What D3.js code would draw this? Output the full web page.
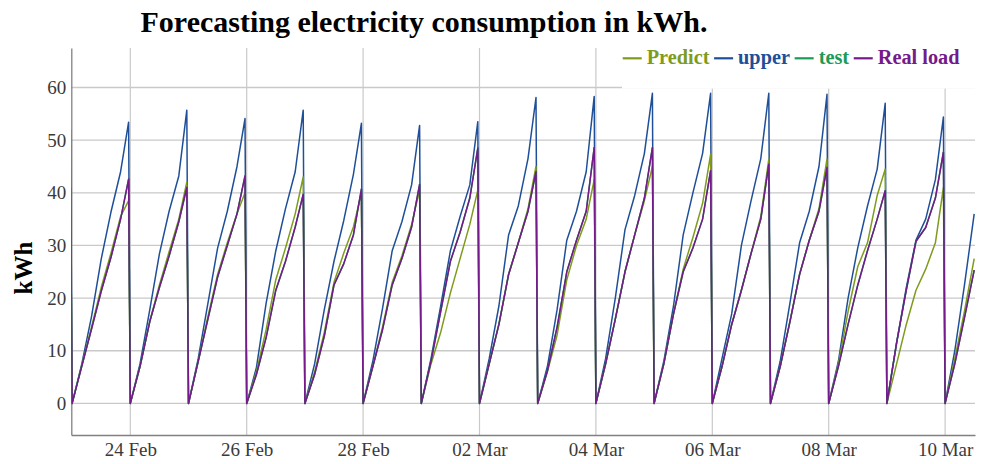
<!DOCTYPE html>
<html><head><meta charset="utf-8">
<script src="https://cdn.jsdelivr.net/npm/d3@7"></script>
<style>body{margin:0;background:#fff;} svg{display:block;}</style>
</head><body><svg id="chart" width="985" height="464"></svg>
<script>
// ---- data ----
const dayStarts = ["2023-02-23","2023-02-24","2023-02-25","2023-02-26","2023-02-27","2023-02-28",
  "2023-03-01","2023-03-02","2023-03-03","2023-03-04","2023-03-05","2023-03-06","2023-03-07",
  "2023-03-08","2023-03-09","2023-03-10"];
const sampleHours = [0, 4, 8, 12, 16, 20, 23.3];
const upper = [
  [0, 7.5, 16.5, 27.4, 36.3, 44, 53.4],
  [0, 7.5, 17.7, 28.4, 36.5, 43.2, 55.7],
  [0, 8.5, 19, 29.5, 36.5, 45, 54.1],
  [0, 6.8, 19, 29, 37, 44, 55.7],
  [0, 7.5, 17.8, 27, 34.7, 43.5, 53.2],
  [0, 8, 18, 29, 34.5, 41.5, 52.8],
  [0, 8.5, 18.5, 29, 35.5, 41.5, 53.5],
  [0, 8.5, 18.5, 32, 37.5, 46.5, 58.1],
  [0, 7, 17.8, 31, 36.5, 44, 58.3],
  [0, 8.5, 20, 33, 39.5, 47.5, 58.9],
  [0, 8, 18.5, 32, 40, 47.5, 58.9],
  [0, 8.5, 17, 30, 38.5, 46.5, 58.9],
  [0, 8, 19, 30.5, 36.5, 45, 58.7],
  [0, 8, 20, 29.6, 37.5, 44.5, 57],
  [0, 11.5, 22, 31, 35, 42.5, 54.4],
  [0, 10, 22.5, 36]
];
const predict = [
  [0, 7.2, 14.5, 22, 28.5, 35.5, 38.5],
  [0, 7, 15.5, 22.5, 28.8, 35, 42],
  [0, 8, 16.5, 24.5, 30.5, 36, 40],
  [0, 6, 14, 23.5, 29.5, 36, 43],
  [0, 6, 13.5, 23, 28.5, 33.5, 40],
  [0, 7, 14.5, 23, 28, 34, 40.5],
  [0, 7.5, 13.5, 21, 27.5, 34, 40.5],
  [0, 7.5, 15, 24.5, 30.5, 37, 45],
  [0, 6, 13, 23.5, 30, 35, 42.5],
  [0, 7.5, 16, 25, 32, 38.5, 45],
  [0, 7.5, 17, 25.5, 31.5, 38, 47.3],
  [0, 7, 15, 21.5, 28.5, 35.5, 46.4],
  [0, 7, 15.5, 24.5, 31, 37, 46.4],
  [0, 7.5, 17.5, 26, 30.5, 39.5, 44.5],
  [0, 7.5, 15, 21.5, 25.5, 30.5, 41],
  [0, 8.5, 17.5, 27.5]
];
const realLoad = [
  [0, 7.1, 14.1, 21.3, 27.7, 35, 42.6],
  [0, 7, 15.5, 22, 28, 34.5, 41],
  [0, 8, 16, 24, 30, 36, 43.2],
  [0, 5.5, 12.5, 21.5, 27, 33.5, 39.7],
  [0, 5.5, 12.8, 22.5, 26.5, 32, 40.7],
  [0, 7, 14, 22.5, 27.5, 33.5, 41.6],
  [0, 8, 17.5, 27, 32.5, 39, 48.5],
  [0, 7.5, 15, 24.5, 30.5, 36.5, 44],
  [0, 6.2, 14.5, 25, 31, 36.5, 48.6],
  [0, 7.5, 16, 25, 32, 39, 48.6],
  [0, 7.5, 17, 25, 29.5, 35, 44.2],
  [0, 7, 15, 21.5, 28.5, 35, 45.4],
  [0, 7, 15.5, 24.5, 31, 36.5, 44.8],
  [0, 7, 15, 22.5, 29, 35, 40.4],
  [0, 11.5, 21.5, 30.8, 33.4, 39, 47.7],
  [0, 7.5, 16.3, 25.3]
];
const test = realLoad; // the test series lies under Real load in the picture
const leadTime = "2023-02-22T23:20";
const leadUpper = 52, leadPredict = 40, leadReal = 41;
const tickDates = ["2023-02-24","2023-02-26","2023-02-28","2023-03-02","2023-03-04","2023-03-06","2023-03-08","2023-03-10"];
const yTicks = [0, 10, 20, 30, 40, 50, 60];
const seriesNames = ["Predict", "upper", "test", "Real load"];
const seriesColors = ["#7f9b1c", "#1f4f98", "#1b9a58", "#741a8a"];

// ---- layout ----
const W = 985, H = 464;
const L = 71.3, R = 975, T = 48, B = 435;
const svg = d3.select("#chart");
const serif = "'Liberation Serif','Times New Roman',serif";

const parseDay = d3.utcParse("%Y-%m-%d");
const parseTime = d3.utcParse("%Y-%m-%dT%H:%M");
const x = d3.scaleUtc()
  .domain([parseTime("2023-02-22T23:40"), parseTime("2023-03-10T12:20")])
  .range([L, R]);
const y = d3.scaleLinear().domain([-6, 67.5]).range([B, T]);

function buildSeries(values, lead) {
  const pts = [{t: parseTime(leadTime), v: lead}];
  dayStarts.forEach((ds, i) => {
    const base = parseDay(ds);
    values[i].forEach((v, j) => pts.push({t: new Date(+base + sampleHours[j] * 3600e3), v}));
  });
  return pts;
}

// clip
svg.append("defs").append("clipPath").attr("id", "plotclip")
  .append("rect").attr("x", L).attr("y", T).attr("width", R - L).attr("height", B - T);

// grid
const grid = svg.append("g");
grid.selectAll("line.h").data(yTicks).join("line")
  .attr("x1", L).attr("x2", R).attr("y1", d => y(d)).attr("y2", d => y(d))
  .attr("stroke", "#c9c9c9").attr("stroke-width", 1.3);
grid.selectAll("line.v").data(tickDates).join("line")
  .attr("y1", T).attr("y2", B).attr("x1", d => x(parseDay(d))).attr("x2", d => x(parseDay(d)))
  .attr("stroke", "#c9c9c9").attr("stroke-width", 1.2);

// axes
const xAxis = d3.axisBottom(x).tickValues(tickDates.map(parseDay))
  .tickFormat(d3.utcFormat("%d %b")).tickSize(0).tickPadding(8);
const gx = svg.append("g").attr("transform", `translate(0,${B})`).call(xAxis);
gx.select(".domain").attr("stroke", "#808080").attr("stroke-width", 1.5);
gx.selectAll("text").attr("font-family", serif).attr("font-size", 19).attr("fill", "#3a3a3a");

const yAxis = d3.axisLeft(y).tickValues(yTicks).tickSize(0).tickPadding(5);
const gy = svg.append("g").attr("transform", `translate(${L},0)`).call(yAxis);
gy.select(".domain").attr("stroke", "#808080").attr("stroke-width", 1.3);
gy.selectAll("text").attr("font-family", serif).attr("font-size", 19).attr("fill", "#3a3a3a");

// lines
const line = d3.line().x(d => x(d.t)).y(d => y(d.v));
const seriesData = [
  {name: "upper", pts: buildSeries(upper, leadUpper), color: seriesColors[1]},
  {name: "Predict", pts: buildSeries(predict, leadPredict), color: seriesColors[0]},
  {name: "test", pts: buildSeries(test, leadReal), color: seriesColors[2]},
  {name: "Real load", pts: buildSeries(realLoad, leadReal), color: seriesColors[3]}
];
svg.append("g").attr("clip-path", "url(#plotclip)")
  .selectAll("path").data(seriesData).join("path")
  .attr("d", d => line(d.pts)).attr("fill", "none")
  .attr("stroke", d => d.color).attr("stroke-width", 1.5).attr("stroke-linejoin", "round");

// legend
svg.append("rect").attr("x", 622).attr("y", 38).attr("width", R - 622 + 1).attr("height", 50.6).attr("fill", "#fff");
const lg = svg.append("g");
let lx = 622.7;
seriesNames.forEach((name, i) => {
  lg.append("line").attr("x1", lx).attr("x2", lx + 19).attr("y1", 58.3).attr("y2", 58.3)
    .attr("stroke", seriesColors[i]).attr("stroke-width", 2.2);
  const t = lg.append("text").attr("x", lx + 24).attr("y", 63.8).text(name)
    .attr("font-family", serif).attr("font-size", 20.3).attr("font-weight", "bold")
    .attr("fill", seriesColors[i]);
  lx = lx + 24 + t.node().getComputedTextLength() + 4.7;
});

// titles
svg.append("text").attr("x", 424).attr("y", 31.5).attr("text-anchor", "middle")
  .attr("font-family", serif).attr("font-size", 30).attr("font-weight", "bold").attr("fill", "#000")
  .text("Forecasting electricity consumption in kWh.");
svg.append("text").attr("transform", "translate(32,268) rotate(-90)").attr("text-anchor", "middle")
  .attr("font-family", serif).attr("font-size", 25).attr("font-weight", "bold").attr("fill", "#000")
  .text("kWh");
</script></body></html>
